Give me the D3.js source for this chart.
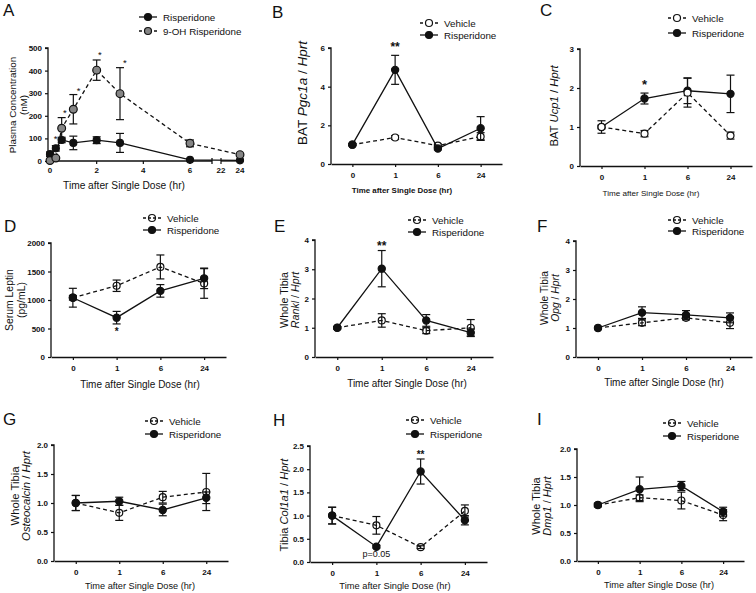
<!DOCTYPE html>
<html><head><meta charset="utf-8">
<script src="https://cdn.jsdelivr.net/npm/d3@7"></script>
<style>body{margin:0;background:#fff}svg{display:block;font-family:"Liberation Sans",Arial,sans-serif}</style>
</head><body><svg id="c" width="756" height="593"></svg>
<script>
// ---------- DATA ----------
const timeLabels = ["0", "1", "6", "24"];
// Panel A (plasma concentration, nM)
const pkTimes = [0, 0.25, 0.5, 1, 2, 3, 6, 24];
const rispPlasma = [30, 56, 93, 80, 92, 80, 5, 3];
const rispPlasmaErr = [10, 12, 12, 30, 15, 42, 3, 2];
const ohPlasma = [2, 13, 145, 229, 402, 298, 78, 28];
const ohPlasmaErr = [2, 5, 47, 65, 45, 115, 15, 5];
const pkStars = [[0.24, 107], [0.64, 222], [1.23, 317], [2.14, 479], [3.21, 444]];
const pkTickValues = [0, 2, 4, 6, 22, 24];
// Panel B  BAT Pgc1a
const pgcVeh = [1.0, 1.37, 0.95, 1.42], pgcVehErr = [0.05, 0.1, 0.08, 0.2];
const pgcRis = [1.0, 4.87, 0.8, 1.85], pgcRisErr = [0.05, 0.75, 0.07, 0.6];
// Panel C  BAT Ucp1
const ucpVeh = [1.0, 0.83, 1.88, 0.78], ucpVehErr = [0.16, 0.08, 0.37, 0.09];
const ucpRis = [1.0, 1.73, 1.93, 1.85], ucpRisErr = [0.05, 0.14, 0.33, 0.48];
// Panel D  Serum leptin
const lepVeh = [1040, 1250, 1580, 1290], lepVehErr = [40, 100, 210, 260];
const lepRis = [1040, 690, 1160, 1380], lepRisErr = [165, 110, 110, 180];
// Panel E  Rankl
const rankVeh = [1.0, 1.25, 0.9, 1.0], rankVehErr = [0.04, 0.23, 0.1, 0.28];
const rankRis = [1.0, 3.02, 1.25, 0.83], rankRisErr = [0.04, 0.62, 0.2, 0.13];
// Panel F  Opg
const opgVeh = [1.0, 1.18, 1.35, 1.18], opgVehErr = [0.04, 0.1, 0.07, 0.2];
const opgRis = [1.0, 1.53, 1.45, 1.35], opgRisErr = [0.04, 0.2, 0.15, 0.17];
// Panel G  Osteocalcin
const ostVeh = [1.0, 0.83, 1.1, 1.19], ostVehErr = [0.13, 0.13, 0.1, 0.32];
const ostRis = [1.0, 1.03, 0.88, 1.09], ostRisErr = [0.13, 0.07, 0.1, 0.1];
// Panel H  Col1a1
const colVeh = [1.0, 0.79, 0.32, 1.1], colVehErr = [0.18, 0.19, 0.03, 0.13];
const colRis = [1.0, 0.33, 1.95, 0.9], colRisErr = [0.18, 0.03, 0.27, 0.1];
// Panel I  Dmp1
const dmpVeh = [1.0, 1.13, 1.08, 0.82], dmpVehErr = [0.03, 0.05, 0.15, 0.1];
const dmpRis = [1.0, 1.28, 1.34, 0.88], dmpRisErr = [0.03, 0.22, 0.08, 0.08];

// ---------- DRAW ----------
const svg = d3.select("#c");
const BLACK = "#111";

function errBars(g, pts, cap) {
  pts.forEach(p => {
    if (p.e <= 0) return;
    g.append("line").attr("x1", p.x).attr("x2", p.x).attr("y1", p.yt).attr("y2", p.yb)
      .attr("stroke", BLACK).attr("stroke-width", 1.2);
    [p.yt, p.yb].forEach(yy => g.append("line").attr("x1", p.x - cap).attr("x2", p.x + cap)
      .attr("y1", yy).attr("y2", yy).attr("stroke", BLACK).attr("stroke-width", 1.2));
  });
}
function series(g, pts, dashed, fill, r) {
  g.append("path").attr("d", d3.line().x(p => p.x).y(p => p.y)(pts))
    .attr("fill", "none").attr("stroke", BLACK).attr("stroke-width", 1.3)
    .attr("stroke-dasharray", dashed ? "4,3" : null);
  errBars(g, pts, 4);
  pts.forEach(p => g.append("circle").attr("cx", p.x).attr("cy", p.y).attr("r", r)
    .attr("fill", fill).attr("stroke", BLACK).attr("stroke-width", 1.2));
}
function legend(g, x, y1, y2, items) {
  [y1, y2].forEach((yy, i) => {
    const it = items[i];
    g.append("line").attr("x1", x - 9).attr("x2", x + 9).attr("y1", yy).attr("y2", yy)
      .attr("stroke", BLACK).attr("stroke-width", 1.3).attr("stroke-dasharray", it.dashed ? "3,2" : null);
    g.append("circle").attr("cx", x).attr("cy", yy).attr("r", 3.5).attr("fill", it.fill)
      .attr("stroke", BLACK).attr("stroke-width", 1.2);
    g.append("text").attr("x", x + 15).attr("y", yy + 3.5).attr("font-size", 9.8).attr("fill", BLACK).text(it.label);
  });
}
function letter(x, y, t) {
  svg.append("text").attr("x", x).attr("y", y).attr("font-size", 17).attr("fill", BLACK).text(t);
}
function yAxis(g, y, x0, ticks, fmt) {
  const ax = d3.axisLeft(y).tickValues(ticks).tickSize(3).tickFormat(fmt || d3.format("d"));
  const a = g.append("g").attr("transform", `translate(${x0},0)`).call(ax);
  a.select(".domain").attr("stroke", BLACK).attr("stroke-width", 1.3).attr("d", `M-3,${y.range()[1]}H0V${y.range()[0]}`);
  a.selectAll(".tick line").attr("stroke", BLACK).attr("stroke-width", 1.2);
  a.selectAll("text").attr("font-size", 8).attr("font-weight", "bold").attr("fill", BLACK)
    .attr("font-family", "Liberation Sans, Arial, sans-serif");
}
function xTitle(g, cx, cy, fs, bold) {
  g.append("text").attr("x", cx).attr("y", cy + 0.35 * fs).attr("text-anchor", "middle").attr("font-size", fs)
    .attr("fill", BLACK).attr("font-weight", bold ? "bold" : null).text("Time after Single Dose (hr)");
}
function yTitleLine(g, cx, cy, fs, parts) {
  const t = g.append("text").attr("transform", `translate(${cx + 0.35 * fs},${cy}) rotate(-90)`)
    .attr("text-anchor", "middle").attr("font-size", fs).attr("fill", BLACK);
  if (typeof parts === "string") t.text(parts);
  else parts.forEach(p => t.append("tspan").attr("font-style", p[1] ? "italic" : null).text(p[0]));
}
function starText(g, x, yc, fs, txt) {
  g.append("text").attr("x", x).attr("y", yc + 0.55 * fs).attr("text-anchor", "middle")
    .attr("font-size", fs).attr("font-weight", "bold").attr("fill", BLACK).text(txt);
}

// ---- Panel A ----
(function () {
  const g = svg.append("g");
  const x = d3.scaleLinear().domain([0, 6, 22, 24]).range([50, 190, 221, 240]);
  const y = d3.scaleLinear().domain([0, 500]).range([161, 48]);
  yAxis(g, y, 48, [0, 100, 200, 300, 400, 500]);
  // broken x axis
  g.append("path").attr("d", `M48,161H212M212,158V164`).attr("stroke", BLACK).attr("stroke-width", 1.3).attr("fill", "none");
  g.append("path").attr("d", `M221,161H243`).attr("stroke", BLACK).attr("stroke-width", 1.3);
  pkTickValues.forEach(t => {
    g.append("line").attr("x1", x(t)).attr("x2", x(t)).attr("y1", t === 22 ? 158 : 161).attr("y2", 164)
      .attr("stroke", BLACK).attr("stroke-width", 1.2);
    g.append("text").attr("x", x(t)).attr("y", 173).attr("text-anchor", "middle").attr("fill", BLACK)
      .attr("font-size", 8).attr("font-weight", "bold").text(t);
  });
  xTitle(g, 124, 185, 10.2, false);
  yTitleLine(g, 12.5, 105, 9.8, "Plasma Concentration");
  yTitleLine(g, 23.5, 105, 9.8, "(nM)");
  const mk = (vals, errs) => pkTimes.map((tt, i) => ({ x: x(tt), y: y(vals[i]), e: errs[i], yt: y(vals[i] + errs[i]), yb: y(Math.max(0, vals[i] - errs[i])) }));
  series(g, mk(rispPlasma, rispPlasmaErr), false, BLACK, 3.5);
  series(g, mk(ohPlasma, ohPlasmaErr), true, "#858585", 3.9);
  pkStars.forEach(s => g.append("text").attr("x", x(s[0])).attr("y", y(s[1]) + 5).attr("text-anchor", "middle")
    .attr("font-size", 9.5).attr("fill", BLACK).text("*"));
  legend(g, 148, 17, 31, [{ label: "Risperidone", fill: BLACK, dashed: false }, { label: "9-OH Risperidone", fill: "#858585", dashed: true }]);
  letter(3, 16, "A");
})();

// ---- Categorical panels ----
const panels = [
  { L: "B", lx: 272, ly: 18, x0: 331, x1: 502, yT: 48, yB: 164, max: 6, ticks: [0, 2, 4, 6], veh: pgcVeh, vehE: pgcVehErr, ris: pgcRis, risE: pgcRisErr,
    lg: [429, 23, 35], xt: [402, 190, 7.9, true], yl: [[302, 93, 13.5, [["BAT ", 0], ["Pgc1a", 1], [" / ", 0], ["Hprt", 1]]]],
    stars: [["**", 1, 6.2, 12]], vehTop: false, hollow: false },
  { L: "C", lx: 540, ly: 16, x0: 580, x1: 752, yT: 49, yB: 166, max: 3, ticks: [0, 1, 2, 3], veh: ucpVeh, vehE: ucpVehErr, ris: ucpRis, risE: ucpRisErr,
    lg: [677, 18, 33], xt: [651, 193, 8.1, false], yl: [[554, 106, 11.3, [["BAT ", 0], ["Ucp1", 1], [" / ", 0], ["Hprt", 1]]]],
    stars: [["*", 1, 2.16, 13]], vehTop: true, hollow: false },
  { L: "D", lx: 4, ly: 232, x0: 51, x1: 226, yT: 243, yB: 357, max: 2000, ticks: [0, 500, 1000, 1500, 2000], veh: lepVeh, vehE: lepVehErr, ris: lepRis, risE: lepRisErr,
    lg: [152, 218, 230], xt: [140, 384, 10, false], yl: [[9, 300, 10.4, "Serum Leptin"], [21, 300, 10.4, "(pg/mL)"]],
    stars: [["*", 1, 477, 10]], vehTop: false, hollow: true },
  { L: "E", lx: 274, ly: 232, x0: 315, x1: 493, yT: 240, yB: 357, max: 4, ticks: [0, 1, 2, 3, 4], veh: rankVeh, vehE: rankVehErr, ris: rankRis, risE: rankRisErr,
    lg: [417, 220, 232], xt: [407, 383, 10, false], yl: [[284, 300, 10.7, "Whole Tibia"], [295, 300, 10.7, [["Rankl", 1], [" / ", 0], ["Hprt", 1]]]],
    stars: [["**", 1, 3.89, 12]], vehTop: false, hollow: true },
  { L: "F", lx: 537, ly: 232, x0: 576, x1: 752, yT: 241, yB: 357, max: 4, ticks: [0, 1, 2, 3, 4], veh: opgVeh, vehE: opgVehErr, ris: opgRis, risE: opgRisErr,
    lg: [677, 220, 231], xt: [664, 382, 10, false], yl: [[544, 298, 10.3, "Whole Tibia"], [555, 298, 10.3, [["Opg", 1], [" / ", 0], ["Hprt", 1]]]],
    stars: [], vehTop: false, hollow: true },
  { L: "G", lx: 3, ly: 425, x0: 54, x1: 228, yT: 445, yB: 561, max: 2, ticks: [0, 0.5, 1, 1.5, 2], fmt: d3.format(".1f"), veh: ostVeh, vehE: ostVehErr, ris: ostRis, risE: ostRisErr,
    lg: [154, 421, 434], xt: [140, 586, 9.2, false], yl: [[15, 496, 11.3, "Whole Tibia"], [26, 496, 11.3, [["Osteocalcin", 1], [" / ", 0], ["Hprt", 1]]]],
    stars: [], vehTop: false, hollow: true },
  { L: "H", lx: 273, ly: 426, x0: 310, x1: 487, yT: 446, yB: 562, max: 2.5, ticks: [0, 0.5, 1, 1.5, 2, 2.5], fmt: d3.format(".1f"), veh: colVeh, vehE: colVehErr, ris: colRis, risE: colRisErr,
    lg: [415, 420, 434], xt: [395, 586, 9.3, false], yl: [[284, 505, 11.2, [["Tibia ", 0], ["Col1a1", 1], [" / ", 0], ["Hprt", 1]]]],
    stars: [["**", 2, 2.36, 10]], note: ["p=0.05", 1, 0.1, 9], vehTop: false, hollow: true },
  { L: "I", lx: 537, ly: 425, x0: 577, x1: 744, yT: 449, yB: 561, max: 2, ticks: [0, 0.5, 1, 1.5, 2], fmt: d3.format(".1f"), veh: dmpVeh, vehE: dmpVehErr, ris: dmpRis, risE: dmpRisErr,
    lg: [672, 423, 436], xt: [659, 585, 9.2, false], yl: [[536, 506, 11, "Whole Tibia"], [547, 506, 11, [["Dmp1", 1], [" / ", 0], ["Hprt", 1]]]],
    stars: [], vehTop: false, hollow: true }
];

panels.forEach(P => {
  const g = svg.append("g");
  const x = d3.scalePoint().domain(timeLabels).range([P.x0, P.x1]).padding(0.5);
  const y = d3.scaleLinear().domain([0, P.max]).range([P.yB, P.yT]);
  yAxis(g, y, P.x0, P.ticks, P.fmt);
  const xa = g.append("g").attr("transform", `translate(0,${P.yB})`).call(d3.axisBottom(x).tickSize(3).tickSizeOuter(0));
  xa.select(".domain").attr("stroke", BLACK).attr("stroke-width", 1.3);
  xa.selectAll(".tick line").attr("stroke", BLACK).attr("stroke-width", 1.2);
  xa.selectAll("text").attr("font-size", 8).attr("font-weight", "bold").attr("fill", BLACK).attr("dy", "1.05em")
    .attr("font-family", "Liberation Sans, Arial, sans-serif");
  xTitle(g, P.xt[0], P.xt[1], P.xt[2], P.xt[3]);
  P.yl.forEach(l => yTitleLine(g, l[0], l[1], l[2], l[3]));
  const vehFill = P.hollow ? "none" : "#fff";
  const mk = (vals, errs) => timeLabels.map((c, i) => ({ x: x(c), y: y(vals[i]), e: errs[i], yt: y(vals[i] + errs[i]), yb: y(Math.max(0, vals[i] - errs[i])) }));
  const drawVeh = () => series(g, mk(P.veh, P.vehE), true, vehFill, 3.5);
  const drawRis = () => series(g, mk(P.ris, P.risE), false, BLACK, 3.6);
  if (P.vehTop) { drawRis(); drawVeh(); } else { drawVeh(); drawRis(); }
  P.stars.forEach(a => starText(g, x(timeLabels[a[1]]), y(a[2]), a[3], a[0]));
  if (P.note) g.append("text").attr("x", x(timeLabels[P.note[1]])).attr("y", y(P.note[2]))
    .attr("text-anchor", "middle").attr("font-size", P.note[3]).attr("fill", BLACK).text(P.note[0]);
  legend(g, P.lg[0], P.lg[1], P.lg[2], [{ label: "Vehicle", fill: vehFill, dashed: true }, { label: "Risperidone", fill: BLACK, dashed: false }]);
  letter(P.lx, P.ly, P.L);
});
</script></body></html>
